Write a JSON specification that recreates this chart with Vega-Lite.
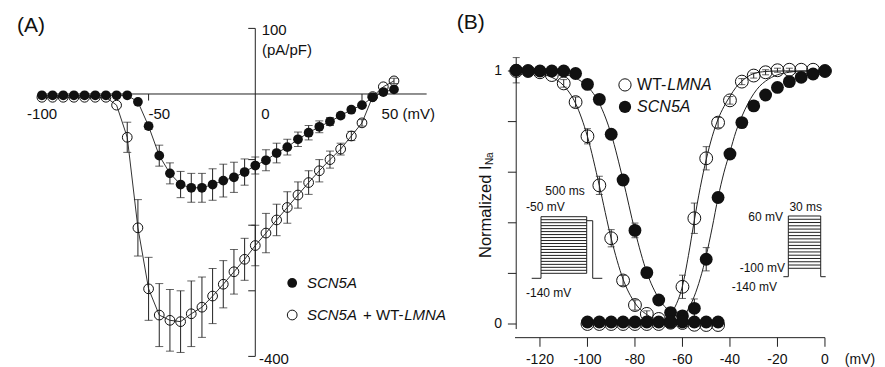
{
"$schema": "https://vega.github.io/schema/vega-lite/v6.json",
"width": 885, "height": 367, "autosize": "none", "padding": 0,
"background": "white",
"config": {"view": {"stroke": null}, "text": {"font": "Liberation Sans", "color": "#111"}},
"datasets": {
"a_scn": [
{"V":-100,"I":-2,"err":0},{"V":-95,"I":-2,"err":0},{"V":-90,"I":-2,"err":0},{"V":-85,"I":-2,"err":0},{"V":-80,"I":-2,"err":0},{"V":-75,"I":-2,"err":0},{"V":-70,"I":-2,"err":0},{"V":-65,"I":-2,"err":0},{"V":-60,"I":-2,"err":0},{"V":-55,"I":-12,"err":0},{"V":-50,"I":-49,"err":5},{"V":-45,"I":-94,"err":16},{"V":-40,"I":-121,"err":16},{"V":-35,"I":-138,"err":20},{"V":-30,"I":-143,"err":22},{"V":-25,"I":-143,"err":22},{"V":-20,"I":-138,"err":24},{"V":-15,"I":-132,"err":25},{"V":-10,"I":-127,"err":23},{"V":-5,"I":-119,"err":20},{"V":0,"I":-109,"err":13},{"V":5,"I":-101,"err":16},{"V":10,"I":-90,"err":15},{"V":15,"I":-81,"err":12},{"V":20,"I":-69,"err":11},{"V":25,"I":-59,"err":11},{"V":30,"I":-50,"err":9},{"V":35,"I":-42,"err":6},{"V":40,"I":-33,"err":4},{"V":45,"I":-24,"err":3},{"V":50,"I":-17,"err":0},{"V":55,"I":-5,"err":0},{"V":60,"I":3,"err":0},{"V":65,"I":7,"err":0}],
"a_lmna": [
{"V":-100,"I":-5,"err":0},{"V":-95,"I":-5,"err":0},{"V":-90,"I":-5,"err":0},{"V":-85,"I":-5,"err":0},{"V":-80,"I":-5,"err":0},{"V":-75,"I":-5,"err":0},{"V":-70,"I":-5,"err":0},{"V":-65,"I":-17,"err":0},{"V":-60,"I":-66,"err":23},{"V":-55,"I":-204,"err":43},{"V":-50,"I":-297,"err":48},{"V":-45,"I":-337,"err":48},{"V":-40,"I":-345,"err":47},{"V":-35,"I":-347,"err":47},{"V":-30,"I":-335,"err":50},{"V":-25,"I":-325,"err":46},{"V":-20,"I":-308,"err":42},{"V":-15,"I":-290,"err":36},{"V":-10,"I":-271,"err":34},{"V":-5,"I":-252,"err":32},{"V":0,"I":-231,"err":31},{"V":5,"I":-212,"err":30},{"V":10,"I":-192,"err":24},{"V":15,"I":-173,"err":24},{"V":20,"I":-154,"err":20},{"V":25,"I":-135,"err":18},{"V":30,"I":-117,"err":17},{"V":35,"I":-100,"err":13},{"V":40,"I":-84,"err":9},{"V":45,"I":-64,"err":7},{"V":50,"I":-44,"err":5},{"V":55,"I":-4,"err":0},{"V":60,"I":11,"err":0},{"V":65,"I":20,"err":4}],
"a_rules": [
{"V":0,"V2":0,"I":100,"I2":-400},
{"V":-100,"V2":80.3,"I":0,"I2":0},
{"V":-3.3,"V2":0,"I":100,"I2":100},{"V":-3.3,"V2":0,"I":-100,"I2":-100},{"V":-3.3,"V2":0,"I":-200,"I2":-200},{"V":-3.3,"V2":0,"I":-300,"I2":-300},{"V":-3.3,"V2":0,"I":-400,"I2":-400},
{"V":-50,"V2":-50,"I":0,"I2":-10},{"V":50,"V2":50,"I":0,"I2":-10}],
"b_lmna": [
{"V":-130,"n":1.0,"err":0},{"V":-125,"n":1.0,"err":0},{"V":-120,"n":0.995,"err":0},{"V":-115,"n":0.984,"err":0},{"V":-110,"n":0.951,"err":0.015},{"V":-105,"n":0.877,"err":0.02},{"V":-100,"n":0.742,"err":0.03},{"V":-95,"n":0.548,"err":0.036},{"V":-90,"n":0.339,"err":0.034},{"V":-85,"n":0.172,"err":0.02},{"V":-80,"n":0.075,"err":0.02},{"V":-75,"n":0.04,"err":0.012},{"V":-70,"n":0.02,"err":0},{"V":-65,"n":0.008,"err":0},{"V":-60,"n":0.004,"err":0},{"V":-55,"n":-0.003,"err":0},{"V":-50,"n":-0.004,"err":0},{"V":-45,"n":-0.004,"err":0},
{"V":-100,"n":0.0,"err":0},{"V":-95,"n":0.0,"err":0},{"V":-90,"n":0.0,"err":0},{"V":-85,"n":0.0,"err":0},{"V":-80,"n":0.0,"err":0},{"V":-75,"n":0.0,"err":0},{"V":-70,"n":0.0,"err":0},{"V":-65,"n":0.005,"err":0},{"V":-60,"n":0.147,"err":0.046},{"V":-55,"n":0.418,"err":0.06},{"V":-50,"n":0.655,"err":0.046},{"V":-45,"n":0.796,"err":0.02},{"V":-40,"n":0.884,"err":0.015},{"V":-35,"n":0.958,"err":0.012},{"V":-30,"n":0.982,"err":0.01},{"V":-25,"n":0.995,"err":0.01},{"V":-20,"n":1.003,"err":0.008},{"V":-15,"n":1.005,"err":0.006},{"V":-10,"n":1.005,"err":0},{"V":-5,"n":1.005,"err":0},{"V":0,"n":1.0,"err":0}],
"b_scn": [
{"V":-130,"n":1.003,"err":0.05},{"V":-125,"n":1.0,"err":0},{"V":-120,"n":1.0,"err":0},{"V":-115,"n":1.0,"err":0},{"V":-110,"n":1.0,"err":0},{"V":-105,"n":0.99,"err":0},{"V":-100,"n":0.947,"err":0},{"V":-95,"n":0.888,"err":0},{"V":-90,"n":0.75,"err":0},{"V":-85,"n":0.569,"err":0.02},{"V":-80,"n":0.37,"err":0.029},{"V":-75,"n":0.203,"err":0.02},{"V":-70,"n":0.095,"err":0.01},{"V":-65,"n":0.045,"err":0},{"V":-60,"n":0.032,"err":0},{"V":-55,"n":0.008,"err":0},{"V":-50,"n":0.008,"err":0},{"V":-45,"n":0.008,"err":0},
{"V":-100,"n":0.008,"err":0},{"V":-95,"n":0.008,"err":0},{"V":-90,"n":0.008,"err":0},{"V":-85,"n":0.008,"err":0},{"V":-80,"n":0.008,"err":0},{"V":-75,"n":0.008,"err":0},{"V":-70,"n":0.008,"err":0},{"V":-65,"n":0.008,"err":0},{"V":-60,"n":0.008,"err":0},{"V":-55,"n":0.062,"err":0.037},{"V":-50,"n":0.256,"err":0.046},{"V":-45,"n":0.5,"err":0.02},{"V":-40,"n":0.672,"err":0},{"V":-35,"n":0.796,"err":0},{"V":-30,"n":0.862,"err":0},{"V":-25,"n":0.905,"err":0},{"V":-20,"n":0.935,"err":0},{"V":-15,"n":0.958,"err":0},{"V":-10,"n":0.975,"err":0},{"V":-5,"n":0.988,"err":0},{"V":0,"n":1.0,"err":0}],
"b_fits": [
{"c":"oi","V":-130,"n":1.0},{"c":"oi","V":-125,"n":0.995},{"c":"oi","V":-120,"n":0.989},{"c":"oi","V":-115,"n":0.975},{"c":"oi","V":-110,"n":0.942},{"c":"oi","V":-105,"n":0.872},{"c":"oi","V":-100,"n":0.741},{"c":"oi","V":-95,"n":0.547},{"c":"oi","V":-90,"n":0.338},{"c":"oi","V":-85,"n":0.177},{"c":"oi","V":-80,"n":0.083},{"c":"oi","V":-75,"n":0.037},{"c":"oi","V":-70,"n":0.016},
{"c":"si","V":-130,"n":1.0},{"c":"si","V":-125,"n":0.999},{"c":"si","V":-120,"n":0.998},{"c":"si","V":-115,"n":0.995},{"c":"si","V":-110,"n":0.988},{"c":"si","V":-105,"n":0.972},{"c":"si","V":-100,"n":0.939},{"c":"si","V":-95,"n":0.872},{"c":"si","V":-90,"n":0.75},{"c":"si","V":-85,"n":0.569},{"c":"si","V":-80,"n":0.368},{"c":"si","V":-75,"n":0.204},{"c":"si","V":-70,"n":0.1015},{"c":"si","V":-65,"n":0.047},{"c":"si","V":-60,"n":0.021},
{"c":"oa","V":-70,"n":0.01},{"c":"oa","V":-67.5,"n":0.02},{"c":"oa","V":-65,"n":0.04},{"c":"oa","V":-62.5,"n":0.08},{"c":"oa","V":-60,"n":0.15},{"c":"oa","V":-57.5,"n":0.27},{"c":"oa","V":-55,"n":0.41},{"c":"oa","V":-52.5,"n":0.54},{"c":"oa","V":-50,"n":0.65},{"c":"oa","V":-47.5,"n":0.74},{"c":"oa","V":-45,"n":0.81},{"c":"oa","V":-42.5,"n":0.86},{"c":"oa","V":-40,"n":0.9},{"c":"oa","V":-37.5,"n":0.935},{"c":"oa","V":-35,"n":0.96},{"c":"oa","V":-32.5,"n":0.978},{"c":"oa","V":-30,"n":0.99},{"c":"oa","V":-25,"n":0.998},{"c":"oa","V":-20,"n":1.0},{"c":"oa","V":0,"n":1.0},
{"c":"sa","V":-62.5,"n":0.01},{"c":"sa","V":-60,"n":0.025},{"c":"sa","V":-57.5,"n":0.06},{"c":"sa","V":-55,"n":0.11},{"c":"sa","V":-52.5,"n":0.18},{"c":"sa","V":-50,"n":0.27},{"c":"sa","V":-47.5,"n":0.38},{"c":"sa","V":-45,"n":0.5},{"c":"sa","V":-42.5,"n":0.6},{"c":"sa","V":-40,"n":0.68},{"c":"sa","V":-37.5,"n":0.76},{"c":"sa","V":-35,"n":0.82},{"c":"sa","V":-32.5,"n":0.87},{"c":"sa","V":-30,"n":0.91},{"c":"sa","V":-27.5,"n":0.94},{"c":"sa","V":-25,"n":0.96},{"c":"sa","V":-20,"n":0.985},{"c":"sa","V":-15,"n":0.995},{"c":"sa","V":-10,"n":1.0},{"c":"sa","V":0,"n":1.0}],
"b_rules": [
{"V":-130,"V2":-130,"n":-0.02,"n2":1.0},
{"V":-133.5,"V2":-130,"n":0,"n2":0},{"V":-133.5,"V2":-130,"n":0.2,"n2":0.2},{"V":-133.5,"V2":-130,"n":0.4,"n2":0.4},{"V":-133.5,"V2":-130,"n":0.6,"n2":0.6},{"V":-133.5,"V2":-130,"n":0.8,"n2":0.8},{"V":-133.5,"V2":-130,"n":1.0,"n2":1.0},
{"V":-130.5,"V2":0,"n":-0.054,"n2":-0.054},
{"V":-120,"V2":-120,"n":-0.054,"n2":-0.09},{"V":-100,"V2":-100,"n":-0.054,"n2":-0.09},{"V":-80,"V2":-80,"n":-0.054,"n2":-0.09},{"V":-60,"V2":-60,"n":-0.054,"n2":-0.09},{"V":-40,"V2":-40,"n":-0.054,"n2":-0.09},{"V":-20,"V2":-20,"n":-0.054,"n2":-0.09},{"V":0,"V2":0,"n":-0.054,"n2":-0.09},
{"V":-123.47,"V2":-119.56,"n":0.1806,"n2":0.1806},
{"V":-119.56,"V2":-119.56,"n":0.1806,"n2":0.4241},
{"V":-100.32,"V2":-100.32,"n":0.2004,"n2":0.4241},
{"V":-100.32,"V2":-97.79,"n":0.4083,"n2":0.4083},
{"V":-97.79,"V2":-97.79,"n":0.1806,"n2":0.4083},
{"V":-97.79,"V2":-93.75,"n":0.1806,"n2":0.1806},
{"V":-119.56,"V2":-100.32,"n":0.4241,"n2":0.4241},{"V":-119.56,"V2":-100.32,"n":0.4123,"n2":0.4123},{"V":-119.56,"V2":-100.32,"n":0.4005,"n2":0.4005},{"V":-119.56,"V2":-100.32,"n":0.3888,"n2":0.3888},{"V":-119.56,"V2":-100.32,"n":0.377,"n2":0.377},{"V":-119.56,"V2":-100.32,"n":0.3652,"n2":0.3652},{"V":-119.56,"V2":-100.32,"n":0.3535,"n2":0.3535},{"V":-119.56,"V2":-100.32,"n":0.3417,"n2":0.3417},{"V":-119.56,"V2":-100.32,"n":0.3299,"n2":0.3299},{"V":-119.56,"V2":-100.32,"n":0.3181,"n2":0.3181},{"V":-119.56,"V2":-100.32,"n":0.3064,"n2":0.3064},{"V":-119.56,"V2":-100.32,"n":0.2946,"n2":0.2946},{"V":-119.56,"V2":-100.32,"n":0.2828,"n2":0.2828},{"V":-119.56,"V2":-100.32,"n":0.2711,"n2":0.2711},{"V":-119.56,"V2":-100.32,"n":0.2593,"n2":0.2593},{"V":-119.56,"V2":-100.32,"n":0.2475,"n2":0.2475},{"V":-119.56,"V2":-100.32,"n":0.2357,"n2":0.2357},{"V":-119.56,"V2":-100.32,"n":0.224,"n2":0.224},{"V":-119.56,"V2":-100.32,"n":0.2122,"n2":0.2122},{"V":-119.56,"V2":-100.32,"n":0.2004,"n2":0.2004},
{"V":-15.43,"V2":-15.43,"n":0.187,"n2":0.4269},
{"V":-1.79,"V2":-1.79,"n":0.187,"n2":0.4269},
{"V":-17.5,"V2":-15.43,"n":0.187,"n2":0.187},
{"V":-1.79,"V2":0.3,"n":0.187,"n2":0.187},
{"V":-15.43,"V2":-1.79,"n":0.4269,"n2":0.4269},{"V":-15.43,"V2":-1.79,"n":0.414,"n2":0.414},{"V":-15.43,"V2":-1.79,"n":0.4011,"n2":0.4011},{"V":-15.43,"V2":-1.79,"n":0.3881,"n2":0.3881},{"V":-15.43,"V2":-1.79,"n":0.3752,"n2":0.3752},{"V":-15.43,"V2":-1.79,"n":0.3623,"n2":0.3623},{"V":-15.43,"V2":-1.79,"n":0.3494,"n2":0.3494},{"V":-15.43,"V2":-1.79,"n":0.3365,"n2":0.3365},{"V":-15.43,"V2":-1.79,"n":0.3236,"n2":0.3236},{"V":-15.43,"V2":-1.79,"n":0.3106,"n2":0.3106},{"V":-15.43,"V2":-1.79,"n":0.2977,"n2":0.2977},{"V":-15.43,"V2":-1.79,"n":0.2848,"n2":0.2848},{"V":-15.43,"V2":-1.79,"n":0.2719,"n2":0.2719},{"V":-15.43,"V2":-1.79,"n":0.259,"n2":0.259},{"V":-15.43,"V2":-1.79,"n":0.246,"n2":0.246},{"V":-15.43,"V2":-1.79,"n":0.2331,"n2":0.2331},{"V":-15.43,"V2":-1.79,"n":0.2202,"n2":0.2202}]
},
"layer": [
{
"encoding": {
"x": {"field": "V", "type": "quantitative", "scale": {"domain": [-119.63, 295.09], "nice": false, "zero": false}, "axis": null},
"y": {"field": "I", "type": "quantitative", "scale": {"domain": [-416.16, 143.29], "nice": false, "zero": false}, "axis": null}
},
"layer": [
{"data": {"name": "a_rules"}, "mark": {"type": "rule", "color": "#222", "strokeWidth": 1}, "encoding": {"x2": {"field": "V2"}, "y2": {"field": "I2"}}},
{"data": {"name": "a_lmna"}, "mark": {"type": "line", "color": "#333", "strokeWidth": 1}, "encoding": {}},
{"data": {"name": "a_scn"}, "mark": {"type": "line", "color": "#333", "strokeWidth": 1}, "encoding": {}},
{"data": {"name": "a_lmna"}, "transform": [{"filter": "datum.err > 0"}], "mark": {"type": "errorbar", "ticks": true, "size": 8, "thickness": 1, "color": "#222"}, "encoding": {"yError": {"field": "err"}}},
{"data": {"name": "a_scn"}, "transform": [{"filter": "datum.err > 0"}], "mark": {"type": "errorbar", "ticks": true, "size": 8, "thickness": 1, "color": "#222"}, "encoding": {"yError": {"field": "err"}}},
{"data": {"name": "a_lmna"}, "mark": {"type": "point", "shape": "circle", "filled": false, "size": 95, "stroke": "#111", "strokeWidth": 1, "opacity": 1}},
{"data": {"name": "a_scn"}, "mark": {"type": "circle", "size": 95, "color": "#111", "opacity": 1}},
{"data": {"values": [{"V": 17.3, "I": -288.1}]}, "mark": {"type": "circle", "size": 95, "color": "#111", "opacity": 1}},
{"data": {"values": [{"V": 17.3, "I": -336.9}]}, "mark": {"type": "point", "shape": "circle", "filled": false, "size": 95, "stroke": "#111", "strokeWidth": 1, "opacity": 1}},
{"data": {"values": [{"V": 3.0, "I": 96.8, "t": "100"}, {"V": 3.1, "I": 67.1, "t": "(pA/pF)"}, {"V": 1.7, "I": -404, "t": "-400"}, {"V": 59.2, "I": -30.5, "t": "50 (mV)"}, {"V": 50.5, "I": -336.9, "t": "+ WT-"}]}, "mark": {"type": "text", "align": "left", "baseline": "middle", "fontSize": 15}, "encoding": {"text": {"field": "t"}}},
{"data": {"values": [{"V": -99.9, "I": -30.5, "t": "-100"}, {"V": -45, "I": -30.5, "t": "-50"}, {"V": 4.8, "I": -30.5, "t": "0"}]}, "mark": {"type": "text", "align": "center", "baseline": "middle", "fontSize": 15}, "encoding": {"text": {"field": "t"}}},
{"data": {"values": [{"V": 24.2, "I": -288.1, "t": "SCN5A"}, {"V": 24.2, "I": -336.9, "t": "SCN5A"}, {"V": 69.8, "I": -336.9, "t": "LMNA"}]}, "mark": {"type": "text", "align": "left", "baseline": "middle", "fontSize": 15, "fontStyle": "italic"}, "encoding": {"text": {"field": "t"}}},
{"data": {"values": [{"V": -111.67, "I": 102.9, "t": "(A)"}]}, "mark": {"type": "text", "align": "left", "baseline": "middle", "fontSize": 21}, "encoding": {"text": {"field": "t"}}}
]
},
{
"encoding": {
"x": {"field": "V", "type": "quantitative", "scale": {"domain": [-347.35, 25.28], "nice": false, "zero": false}, "axis": null},
"y": {"field": "n", "type": "quantitative", "scale": {"domain": [-0.16996, 1.28063], "nice": false, "zero": false}, "axis": null}
},
"layer": [
{"data": {"name": "b_rules"}, "mark": {"type": "rule", "color": "#222", "strokeWidth": 1}, "encoding": {"x2": {"field": "V2"}, "y2": {"field": "n2"}}},
{"data": {"name": "b_fits"}, "mark": {"type": "line", "color": "#222", "strokeWidth": 1, "interpolate": "monotone"}, "encoding": {"detail": {"field": "c"}}},
{"data": {"name": "b_lmna"}, "transform": [{"filter": "datum.err > 0"}], "mark": {"type": "errorbar", "ticks": true, "size": 7, "thickness": 1, "color": "#222"}, "encoding": {"yError": {"field": "err"}}},
{"data": {"name": "b_scn"}, "transform": [{"filter": "datum.err > 0"}], "mark": {"type": "errorbar", "ticks": true, "size": 7, "thickness": 1, "color": "#222"}, "encoding": {"yError": {"field": "err"}}},
{"data": {"name": "b_lmna"}, "mark": {"type": "point", "shape": "circle", "filled": false, "size": 165, "stroke": "#111", "strokeWidth": 1, "opacity": 1}},
{"data": {"name": "b_scn"}, "mark": {"type": "circle", "size": 165, "color": "#111", "opacity": 1}},
{"data": {"values": [{"V": -84.2, "n": 0.858}]}, "mark": {"type": "circle", "size": 150, "color": "#111", "opacity": 1}},
{"data": {"values": [{"V": -84.2, "n": 0.945}]}, "mark": {"type": "point", "shape": "circle", "filled": false, "size": 150, "stroke": "#111", "strokeWidth": 1, "opacity": 1}},
{"data": {"values": [{"V": -120, "n": -0.142, "t": "-120"}, {"V": -100, "n": -0.142, "t": "-100"}, {"V": -80, "n": -0.142, "t": "-80"}, {"V": -60, "n": -0.142, "t": "-60"}, {"V": -40, "n": -0.142, "t": "-40"}, {"V": -20, "n": -0.142, "t": "-20"}, {"V": 0, "n": -0.142, "t": "0"}, {"V": 14.76, "n": -0.142, "t": "(mV)"}]}, "mark": {"type": "text", "align": "center", "baseline": "middle", "fontSize": 14}, "encoding": {"text": {"field": "t"}}},
{"data": {"values": [{"V": -136, "n": 1, "t": "1"}, {"V": -136, "n": 0, "t": "0"}]}, "mark": {"type": "text", "align": "right", "baseline": "middle", "fontSize": 14}, "encoding": {"text": {"field": "t"}}},
{"data": {"values": [{"V": -109.45, "n": 0.527, "t": "500 ms"}, {"V": -8.08, "n": 0.4636, "t": "30 ms"}]}, "mark": {"type": "text", "align": "center", "baseline": "middle", "fontSize": 12}, "encoding": {"text": {"field": "t"}}},
{"data": {"values": [{"V": -125.87, "n": 0.4636, "t": "-50 mV"}, {"V": -125.87, "n": 0.1237, "t": "-140 mV"}]}, "mark": {"type": "text", "align": "left", "baseline": "middle", "fontSize": 12}, "encoding": {"text": {"field": "t"}}},
{"data": {"values": [{"V": -17.66, "n": 0.4241, "t": "60 mV"}, {"V": -16.82, "n": 0.2213, "t": "-100 mV"}, {"V": -20.19, "n": 0.1474, "t": "-140 mV"}]}, "mark": {"type": "text", "align": "right", "baseline": "middle", "fontSize": 12}, "encoding": {"text": {"field": "t"}}},
{"data": {"values": [{"V": -79.1, "n": 0.945, "t": "WT-"}]}, "mark": {"type": "text", "align": "left", "baseline": "middle", "fontSize": 16}, "encoding": {"text": {"field": "t"}}},
{"data": {"values": [{"V": -66.4, "n": 0.945, "t": "LMNA"}, {"V": -79.1, "n": 0.858, "t": "SCN5A"}]}, "mark": {"type": "text", "align": "left", "baseline": "middle", "fontSize": 16, "fontStyle": "italic"}, "encoding": {"text": {"field": "t"}}},
{"data": {"values": [{"V": -142.7, "n": 0.2609, "t": "Normalized I"}]}, "mark": {"type": "text", "align": "left", "baseline": "middle", "fontSize": 16.5, "angle": 270}, "encoding": {"text": {"field": "t"}}},
{"data": {"values": [{"V": -141.0, "n": 0.628, "t": "Na"}]}, "mark": {"type": "text", "align": "left", "baseline": "middle", "fontSize": 10, "angle": 270}, "encoding": {"text": {"field": "t"}}},
{"data": {"values": [{"V": -155.05, "n": 1.1885, "t": "(B)"}]}, "mark": {"type": "text", "align": "left", "baseline": "middle", "fontSize": 21}, "encoding": {"text": {"field": "t"}}}
]
}
],
"resolve": {"scale": {"x": "independent", "y": "independent"}}
}
